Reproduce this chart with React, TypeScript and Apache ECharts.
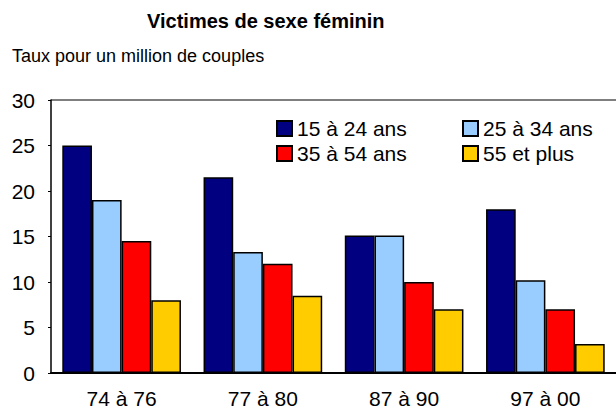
import React, { useEffect, useRef } from "react";
import * as echarts from "echarts";

const categories = ["74 à 76", "77 à 80", "87 à 90", "97 à 00"];
const seriesNames = ["15 à 24 ans", "25 à 34 ans", "35 à 54 ans", "55 et plus"];
const s15to24 = [25, 21.5, 15.1, 18];
const s25to34 = [19, 13.3, 15.1, 10.2];
const s35to54 = [14.5, 12, 10, 7];
const s55plus = [8, 8.5, 7, 3.2];
const colors = ["#000080", "#99CCFF", "#FF0000", "#FFCC00"];

const FONT = "'Liberation Sans', Arial, sans-serif";

export default function App() {
  const ref = useRef<HTMLDivElement>(null);
  useEffect(() => {
    if (!ref.current) return;
    const chart = echarts.init(ref.current, null, { renderer: "svg" });
    const values = [s15to24, s25to34, s35to54, s55plus];
    const legendCommon = {
      orient: "vertical" as const,
      top: 118,
      itemWidth: 15,
      itemHeight: 15,
      itemGap: 4,
      icon: "rect",
      textStyle: { fontFamily: FONT, fontSize: 21, color: "#000", padding: [0, 0, 0, 0] },
      padding: 0,
    };
    chart.setOption({
      animation: false,
      backgroundColor: "#fff",
      title: [
        {
          text: "Victimes de sexe féminin",
          left: 147,
          top: 11,
          textStyle: { fontFamily: FONT, fontSize: 20, fontWeight: "bold", color: "#000" },
          padding: 0,
        },
        {
          text: "Taux pour un million de couples",
          left: 12,
          top: 47,
          textStyle: { fontFamily: FONT, fontSize: 18, fontWeight: "normal", color: "#000" },
          padding: 0,
        },
      ],
      legend: [
        { ...legendCommon, left: 276, data: [seriesNames[0], seriesNames[2]] },
        { ...legendCommon, left: 462, data: [seriesNames[1], seriesNames[3]] },
      ],
      grid: { left: 51, right: -7, top: 100, bottom: 41, containLabel: false },
      xAxis: {
        type: "category",
        data: categories,
        axisLine: { lineStyle: { color: "#000", width: 2 } },
        axisTick: { show: false },
        axisLabel: { fontFamily: FONT, fontSize: 21, color: "#000", margin: 15 },
      },
      yAxis: {
        type: "value",
        min: 0,
        max: 30,
        interval: 5,
        axisLine: { show: true, lineStyle: { color: "#000", width: 1.5 } },
        axisTick: { show: true, length: 3, lineStyle: { color: "#000" } },
        splitLine: { show: false },
        axisLabel: { fontFamily: FONT, fontSize: 21, color: "#000", margin: 16 },
      },
      graphic: [
        {
          type: "line",
          shape: { x1: 51, y1: 100, x2: 616, y2: 100 },
          style: { stroke: "#000", lineWidth: 1.2 },
        },
      ],
      series: seriesNames.map((name, i) => ({
        name,
        type: "bar",
        data: values[i],
        barGap: "0%",
        barCategoryGap: "16%",
        itemStyle: { color: colors[i], borderColor: "#000", borderWidth: 1.5 },
      })),
    });
    return () => chart.dispose();
  }, []);
  return <div ref={ref} style={{ width: 616, height: 414, position: "absolute", left: 0, top: 0 }} />;
}
